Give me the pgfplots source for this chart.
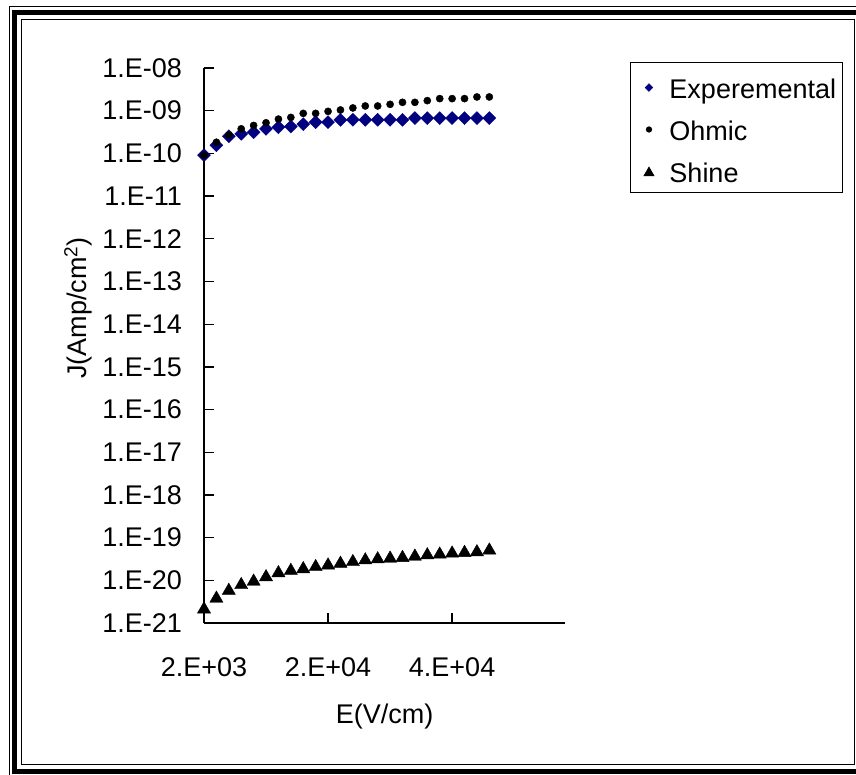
\documentclass[border=0pt]{standalone}
\usepackage{fontspec}
\setmainfont{Liberation Sans}
\usepackage{pgfplots}
\pgfplotsset{compat=1.18}
\definecolor{expblue}{HTML}{000080}
\newcommand{\chartfont}{\fontsize{27}{32}\selectfont}

\begin{document}
\begin{tikzpicture}[x=1pt,y=1pt]
\useasboundingbox (0,0) rectangle (856,774);
% triple frame around the chart
\draw[line width=1.5pt] (9.5,-3) rectangle (867,767.5);
\draw[line width=5pt] (14.5,2.5) rectangle (861.5,761.5);
\draw[line width=1.5pt] (21.5,9.5) rectangle (854.5,754.5);

\begin{axis}[
  at={(204pt,151pt)}, anchor=south west,
  scale only axis, width=361pt, height=555pt,
  ymode=log,
  xmin=2000, xmax=60200, ymin=1e-21, ymax=1e-8,
  axis x line=bottom, axis y line=left,
  axis line style={-, line width=1.4pt, black},
  tick align=inside, major tick length=10pt,
  tick style={line width=1.3pt, black},
  scaled x ticks=false,
  xtick={2000,22000,42000},
  xticklabels={2.E+03,2.E+04,4.E+04},
  ytick={1e-21,1e-20,1e-19,1e-18,1e-17,1e-16,1e-15,1e-14,1e-13,1e-12,1e-11,1e-10,1e-9,1e-8},
  yticklabels={1.E-21,1.E-20,1.E-19,1.E-18,1.E-17,1.E-16,1.E-15,1.E-14,1.E-13,1.E-12,1.E-11,1.E-10,1.E-09,1.E-08},
  yminorticks=false, xminorticks=false,
  tick label style={font=\chartfont},
  xticklabel style={inner sep=0pt, anchor=north, yshift=-34pt},
  yticklabel style={inner sep=0pt, anchor=east, xshift=-22pt},
  every axis x label/.style={at={(axis description cs:0.5,-0.169)}, anchor=center, font=\chartfont},
  every axis y label/.style={at={(axis description cs:-0.349,0.568)}, rotate=90, anchor=center, font=\chartfont},
  xlabel={E(V/cm)},
  ylabel={J(Amp/cm\textsuperscript{2})},
  clip=false,
  legend cell align=left,
  legend style={at={(axis description cs:1.180,1.0108)}, anchor=north west,
    draw=black, line width=1pt, font=\chartfont,
    inner xsep=6pt, inner ysep=10.5pt, row sep=17pt, column sep=8pt,
    nodes={inner sep=0pt, text height=25pt, text depth=0pt}},
]

% measured current density
\addplot[only marks, color=expblue, mark=square*, mark size=4.6pt,
  mark options={rotate=45, draw=expblue, fill=expblue, line width=0.4pt},
  legend image code/.code={\path (0pt,0pt) (24pt,0pt);
    \draw[expblue, line width=0.4pt, mark=square*, mark size=2.8pt,
      mark options={rotate=45, fill=expblue}] plot coordinates {(12pt,-2pt)};}]
table {
x y
2000 9.1e-11
4000 1.55e-10
6000 2.52e-10
8000 2.86e-10
10000 3.13e-10
12000 3.76e-10
14000 4.11e-10
16000 4.27e-10
18000 4.84e-10
20000 5.40e-10
22000 5.40e-10
24000 6.12e-10
26000 6.12e-10
28000 6.12e-10
30000 6.12e-10
32000 6.12e-10
34000 6.12e-10
36000 6.71e-10
38000 6.71e-10
40000 6.71e-10
42000 6.71e-10
44000 6.71e-10
46000 6.71e-10
48000 6.71e-10
};
\addlegendentry{Experemental}

% ohmic conduction
\addplot[only marks, color=black, mark=*, mark size=3.6pt,
  legend image code/.code={\path (0pt,0pt) (24pt,0pt);
    \draw[black, mark=*, mark size=2.6pt] plot coordinates {(12pt,-2pt)};}]
table {
x y
2000 9.1e-11
4000 1.82e-10
6000 2.71e-10
8000 3.76e-10
10000 4.51e-10
12000 5.21e-10
14000 6.36e-10
16000 6.96e-10
18000 8.65e-10
20000 8.65e-10
22000 9.64e-10
24000 1.04e-9
26000 1.16e-9
28000 1.29e-9
30000 1.29e-9
32000 1.41e-9
34000 1.57e-9
36000 1.57e-9
38000 1.72e-9
40000 1.92e-9
42000 1.92e-9
44000 1.92e-9
46000 2.10e-9
48000 2.10e-9
};
\addlegendentry{Ohmic}

% Schottky emission
\addplot[only marks, color=black, mark=triangle*, mark size=7.6pt,
  mark options={yshift=-1.9pt},
  legend image code/.code={\path (0pt,0pt) (24pt,0pt);
    \draw[black, mark=triangle*, mark size=5.4pt, mark options={yshift=-1.3pt}] plot coordinates {(12pt,-2pt)};}]
table {
x y
2000 2.32e-21
4000 4.16e-21
6000 6.33e-21
8000 8.64e-21
10000 1.04e-20
12000 1.32e-20
14000 1.64e-20
16000 1.86e-20
18000 2.04e-20
20000 2.28e-20
22000 2.49e-20
24000 2.73e-20
26000 2.99e-20
28000 3.28e-20
30000 3.47e-20
32000 3.60e-20
34000 3.73e-20
36000 4.01e-20
38000 4.31e-20
40000 4.48e-20
42000 4.73e-20
44000 4.90e-20
46000 5.08e-20
48000 5.57e-20
};
\addlegendentry{Shine}

\end{axis}
\end{tikzpicture}
\end{document}
